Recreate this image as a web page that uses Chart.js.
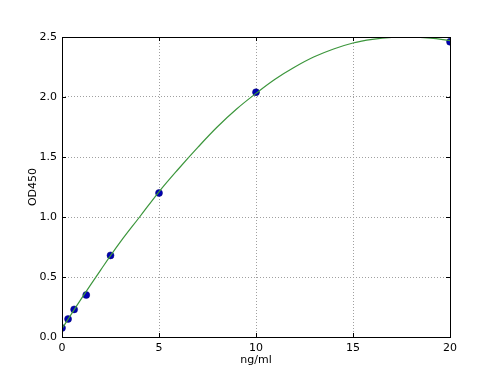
<!DOCTYPE html>
<html>
<head>
<meta charset="utf-8">
<script src="https://cdn.jsdelivr.net/npm/chart.js@4"></script>
<style>
  html, body { margin: 0; padding: 0; background: #fff; }
  #wrap { width: 500px; height: 375px; }
</style>
</head>
<body>
<div id="wrap"><canvas id="myChart" width="500" height="375"></canvas></div>
<script>
// standards
const concentrations = [0, 0.3125, 0.625, 1.25, 2.5, 5, 10, 20];
const odValues = [0.075, 0.15, 0.23, 0.35, 0.68, 1.2, 2.04, 2.46];

// fitted curve
const curveX = [0, 1, 2, 3, 4, 5, 6, 7, 8, 9, 10, 11, 12, 13, 14, 15, 16, 17, 18, 19, 20];
const curveY = [0.07, 0.32, 0.56, 0.79, 1.0, 1.21, 1.4, 1.58, 1.75, 1.9, 2.03, 2.15, 2.25, 2.335, 2.4, 2.45, 2.48, 2.497, 2.5, 2.49, 2.47];

const xTicks = [0, 5, 10, 15, 20];
const yTicks = [0, 0.5, 1.0, 1.5, 2.0, 2.5];

const font = { family: 'DejaVu Sans', size: 11 };

// frame + inward tick marks like matplotlib
const framePlugin = {
  id: 'frame',
  afterDraw(chart) {
    const { ctx, chartArea: a, scales } = chart;
    ctx.save();
    ctx.strokeStyle = '#000';
    ctx.lineWidth = 1;
    ctx.beginPath();
    xTicks.forEach(v => {
      const px = Math.round(scales.x.getPixelForValue(v)) + 0.5;
      ctx.moveTo(px, a.bottom); ctx.lineTo(px, a.bottom - 4);
      ctx.moveTo(px, a.top); ctx.lineTo(px, a.top + 4);
    });
    yTicks.forEach(v => {
      const py = Math.round(scales.y.getPixelForValue(v)) + 0.5;
      ctx.moveTo(a.left, py); ctx.lineTo(a.left + 4, py);
      ctx.moveTo(a.right, py); ctx.lineTo(a.right - 4, py);
    });
    ctx.stroke();
    ctx.strokeRect(Math.round(a.left) + 0.5, Math.round(a.top) + 0.5,
      Math.round(a.right - a.left), Math.round(a.bottom - a.top));
    ctx.restore();
  }
};

const data = {
  datasets: [
    {
      label: 'fit',
      data: curveX.map((x, i) => ({ x: x, y: curveY[i] })),
      showLine: true,
      borderColor: '#3c963c',
      borderWidth: 1.2,
      pointRadius: 0,
      tension: 0.4,
      clip: 0
    },
    {
      label: 'standards',
      data: concentrations.map((x, i) => ({ x: x, y: odValues[i] })),
      backgroundColor: '#0000b4',
      borderColor: '#00006e',
      borderWidth: 0.5,
      pointRadius: 3.5,
      clip: 0
    }
  ]
};

const config = {
  type: 'scatter',
  data,
  plugins: [framePlugin],
  options: {
    responsive: false,
    animation: false,
    layout: { padding: { top: 37, right: 50, left: 0, bottom: 0 } },
    plugins: { legend: { display: false }, tooltip: { enabled: false } },
    scales: {
      x: {
        type: 'linear',
        min: 0, max: 20,
        afterBuildTicks: s => { s.ticks = xTicks.map(v => ({ value: v })); },
        afterFit: s => { s.height = 38; },
        ticks: { color: '#000', font, padding: 5, maxRotation: 0,
          callback: v => String(v) },
        grid: { color: '#a0a0a0', drawTicks: false },
        border: { display: false, dash: [1, 2] },
        title: { display: true, text: 'ng/ml', color: '#000', font, padding: { top: 0, bottom: 8 } }
      },
      y: {
        type: 'linear',
        min: 0, max: 2.5,
        afterBuildTicks: s => { s.ticks = yTicks.map(v => ({ value: v })); },
        afterFit: s => { s.width = 62; },
        ticks: { color: '#000', font, padding: 5,
          callback: v => v.toFixed(1) },
        grid: { color: '#a0a0a0', drawTicks: false },
        border: { display: false, dash: [1, 2] },
        title: { display: true, text: 'OD450', color: '#000', font, padding: { top: 27, bottom: 0 } }
      }
    }
  }
};

const myChart = new Chart(document.getElementById('myChart'), config);
</script>
</body>
</html>
